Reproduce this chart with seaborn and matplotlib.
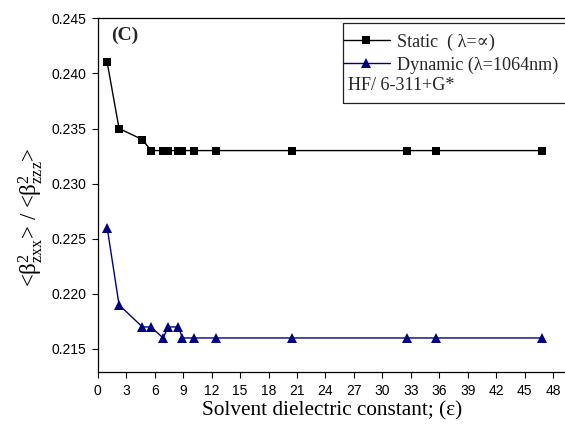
import matplotlib
matplotlib.use("Agg")
import matplotlib.pyplot as plt
import seaborn as sns
import pandas as pd
from matplotlib.patches import Rectangle

# ---- data ----
epsilon = [1.0, 2.25, 4.71, 5.62, 6.89, 7.43, 8.5, 8.93, 10.1, 12.5, 20.49, 32.61, 35.69, 46.8]
static_ratio = [0.241, 0.235, 0.234, 0.233, 0.233, 0.233, 0.233, 0.233, 0.233, 0.233, 0.233, 0.233, 0.233, 0.233]
dynamic_ratio = [0.226, 0.219, 0.217, 0.217, 0.216, 0.217, 0.217, 0.216, 0.216, 0.216, 0.216, 0.216, 0.216, 0.216]
series_labels = ["Static  ( \u03bb=\u221d)", "Dynamic (\u03bb=1064nm)"]
x_ticks = list(range(0, 49, 3))
y_ticks = [0.215, 0.220, 0.225, 0.230, 0.235, 0.240, 0.245]

sns.set_theme(style="ticks")
plt.rcParams["font.family"] = ["Liberation Sans", "DejaVu Sans"]
plt.rcParams["mathtext.fontset"] = "custom"
plt.rcParams["mathtext.rm"] = "Liberation Serif"
plt.rcParams["mathtext.it"] = "Liberation Serif:italic"
plt.rcParams["mathtext.bf"] = "Liberation Serif:bold"

W, H = 565, 430
fig = plt.figure(figsize=(W / 100, H / 100), dpi=100)
ax_left, ax_right = 97.7, 570.0
ax_top, ax_bot = 18.3, 371.7
ax = fig.add_axes([ax_left / W, 1 - ax_bot / H, (ax_right - ax_left) / W, (ax_bot - ax_top) / H])

df = pd.DataFrame({"eps": epsilon, "static": static_ratio, "dynamic": dynamic_ratio})

sns.lineplot(data=df, x="eps", y="static", ax=ax, color="black", marker="s",
             markersize=5.5, markeredgewidth=0, linewidth=1.0, estimator=None, sort=False,
             label=series_labels[0])
sns.lineplot(data=df, x="eps", y="dynamic", ax=ax, color="#000080", marker="^",
             markersize=6.5, markeredgewidth=0, linewidth=1.0, estimator=None, sort=False,
             label=series_labels[1])

xmax = (ax_right - ax_left) / 9.49
ax.set_xlim(0, xmax)
ax.set_ylim(0.21294, 0.245)
ax.set_xticks(x_ticks)
ax.set_yticks(y_ticks)
ax.set_yticklabels([f"{v:.3f}" for v in y_ticks])
ax.tick_params(axis="both", direction="out", length=4, width=0.8, labelsize=10,
               colors="black", pad=4)
ax.tick_params(axis="x", pad=5)

for s in ["left", "bottom", "top"]:
    ax.spines[s].set_visible(True)
    ax.spines[s].set_linewidth(0.9)
    ax.spines[s].set_color("black")
ax.spines["right"].set_visible(False)

ax.set_xlabel("Solvent dielectric constant; (\u03b5)", family=["Liberation Serif", "DejaVu Serif"],
              fontsize=15.3, color="black")
ax.xaxis.set_label_coords((332 - ax_left) / (ax_right - ax_left), -(401 - ax_bot) / (ax_bot - ax_top))
ax.set_ylabel(r"<$\mathrm{\beta}^{2}_{\mathrm{zxx}}$> / <$\mathrm{\beta}^{2}_{\mathrm{zzz}}$>",
              family=["Liberation Serif", "DejaVu Serif"], fontsize=16.5, color="black")
ax.yaxis.set_label_coords((45 - ax_left) / (ax_right - ax_left), (ax_bot - 217) / (ax_bot - ax_top))

fig.text(125 / W, 1 - 35 / H, "(C)", family=["Liberation Serif", "DejaVu Serif"],
         fontweight="bold", fontsize=14, ha="center", va="center")

# legend
leg = ax.legend(loc="upper left", bbox_to_anchor=(342.7 / W, 1 - 33.5 / H),
                bbox_transform=fig.transFigure, frameon=False, borderpad=0, borderaxespad=0,
                handlelength=2.6, handletextpad=0.37, labelspacing=0.3,
                prop={"family": ["Liberation Serif", "DejaVu Serif"], "size": 13.1})
fig.text(347.7 / W, 1 - 85 / H, "HF/ 6-311+G*", family=["Liberation Serif", "DejaVu Serif"],
         fontsize=13.1, ha="left", va="center")
fig.patches.append(Rectangle((342.7 / W, 1 - 102.7 / H), (600 - 342.7) / W, 80 / H,
                             transform=fig.transFigure, fill=False, edgecolor="#222222",
                             linewidth=0.9))

fig.savefig("out.png", dpi=100)
